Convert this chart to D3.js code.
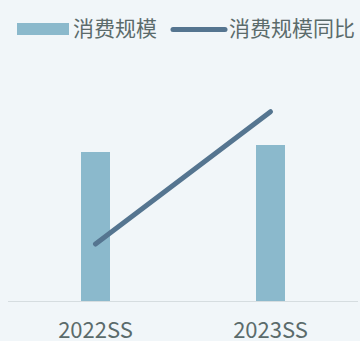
<!DOCTYPE html>
<html>
<head>
<meta charset="utf-8">
<script src="https://cdn.jsdelivr.net/npm/d3@7"></script>
<style>
  html, body { margin: 0; padding: 0; background: #f1f6f9; }
  svg { display: block; }
  text { font-family: "Noto Sans CJK SC", "Noto Sans", sans-serif; fill: #5b6b6b; }
</style>
</head>
<body>
<svg id="chart" width="360" height="341"></svg>
<script>
// Seasons on the x axis
const categories = ["2022SS", "2023SS"];
// Consumption scale (bars)
const barValues = [149, 156];
// Year-on-year change of consumption scale, % (line)
const lineValues = [-17.2, 35.7];
// Legend entries
const legendLabels = ["消费规模", "消费规模同比"];

const W = 360, H = 341;
const margin = { left: 8, right: 2, top: 101, bottom: 40 };
const baseY = H - margin.bottom;

const svg = d3.select("#chart");
svg.append("rect").attr("width", W).attr("height", H).attr("fill", "#f1f6f9");

const x = d3.scaleBand()
  .domain(categories)
  .range([margin.left, W - margin.right])
  .paddingInner(0)
  .paddingOuter(0);

const yBar = d3.scaleLinear().domain([0, 200]).range([baseY, margin.top]);
const yLine = d3.scaleLinear().domain([-40, 40]).range([baseY, margin.top]);

const barW = 29;

// Baseline axis
svg.append("line")
  .attr("x1", margin.left).attr("x2", W - margin.right)
  .attr("y1", baseY + 0.5).attr("y2", baseY + 0.5)
  .attr("stroke", "#d6dde0").attr("stroke-width", 1);

// Bars
svg.selectAll("rect.bar")
  .data(categories)
  .join("rect")
  .attr("class", "bar")
  .attr("x", (d) => x(d) + x.bandwidth() / 2 - barW / 2)
  .attr("width", barW)
  .attr("y", (d, i) => yBar(barValues[i]))
  .attr("height", (d, i) => baseY - yBar(barValues[i]))
  .attr("fill", "#8bb9cc");

// Year-on-year line
const line = d3.line()
  .x((d, i) => x(categories[i]) + x.bandwidth() / 2)
  .y((d) => yLine(d));

svg.append("path")
  .datum(lineValues)
  .attr("d", line)
  .attr("fill", "none")
  .attr("stroke", "#557590")
  .attr("stroke-width", 5)
  .attr("stroke-linecap", "round")
  .attr("stroke-linejoin", "round");

// X axis labels
svg.selectAll("text.xlabel")
  .data(categories)
  .join("text")
  .attr("class", "xlabel")
  .attr("x", (d) => x(d) + x.bandwidth() / 2)
  .attr("y", 338)
  .attr("text-anchor", "middle")
  .attr("font-size", 22)
  .text((d) => d);

// Legend
const legend = svg.append("g");
legend.append("rect")
  .attr("x", 17).attr("y", 23).attr("width", 52).attr("height", 12)
  .attr("fill", "#8bb9cc");
legend.append("text")
  .attr("x", 73).attr("y", 36)
  .attr("font-size", 21)
  .text(legendLabels[0]);
legend.append("line")
  .attr("x1", 173).attr("x2", 225)
  .attr("y1", 29.5).attr("y2", 29.5)
  .attr("stroke", "#557590").attr("stroke-width", 5)
  .attr("stroke-linecap", "round");
legend.append("text")
  .attr("x", 229).attr("y", 36)
  .attr("font-size", 21)
  .text(legendLabels[1]);
</script>
</body>
</html>
